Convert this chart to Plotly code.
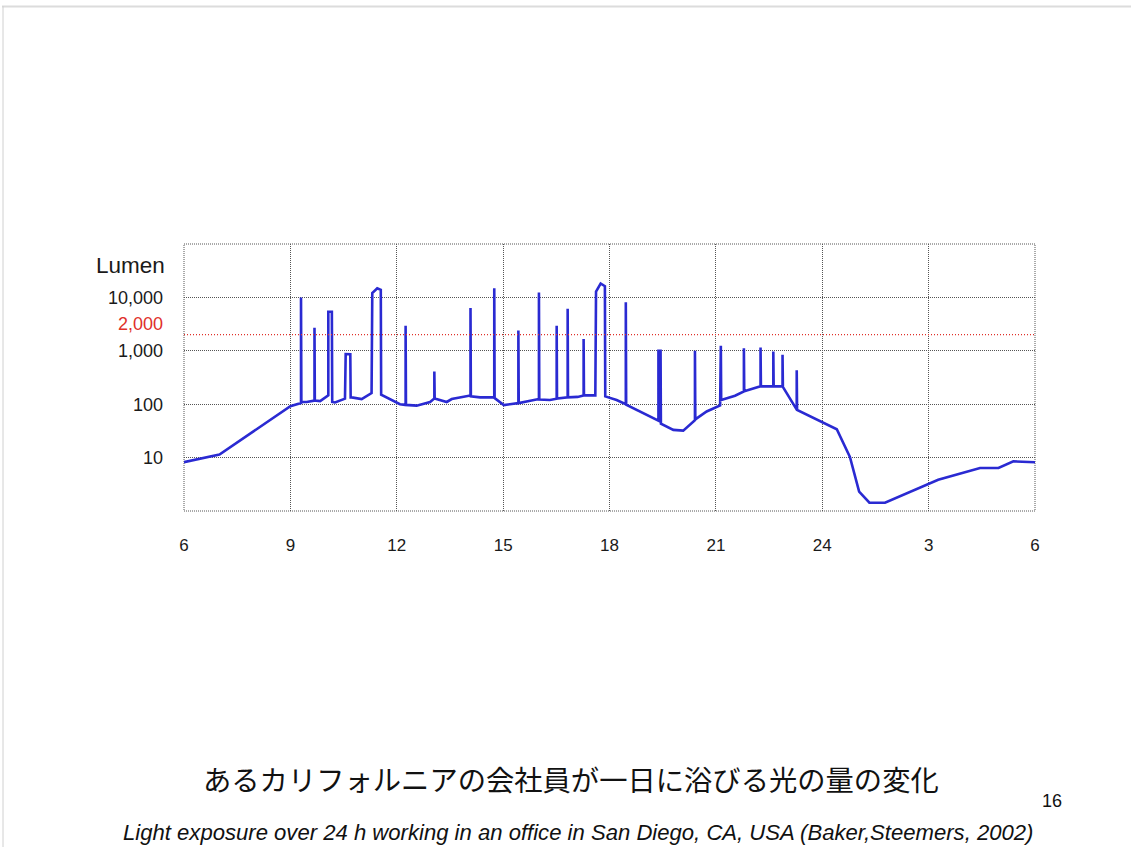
import plotly.graph_objects as go

# Hour of day (values past 24 continue into the next morning) and light level
hours = [
    6.00, 7.00, 9.00, 9.30, 9.30, 9.31, 9.46, 9.68, 9.68, 9.69, 9.84,
    10.07, 10.07, 10.17, 10.18, 10.26, 10.54, 10.56, 10.69, 10.70, 10.73,
    11.01, 11.29, 11.31, 11.45, 11.55, 11.56, 12.09, 12.25, 12.25, 12.26,
    12.56, 12.94, 13.06, 13.06, 13.07, 13.41, 13.55, 14.08, 14.08, 14.09,
    14.35, 14.75, 14.75, 14.76, 15.02, 15.43, 15.43, 15.44, 15.80, 16.01,
    16.01, 16.02, 16.32, 16.51, 16.51, 16.52, 16.82, 16.82, 16.83, 17.10,
    17.27, 17.27, 17.28, 17.60, 17.62, 17.75, 17.87, 17.88, 18.20, 18.46,
    18.46, 18.47, 19.38, 19.38, 19.44, 19.45, 19.80, 20.08, 20.41, 20.41,
    20.42, 20.74, 21.12, 21.14, 21.15, 21.54, 21.79, 21.79, 21.80, 22.26,
    22.26, 22.27, 22.62, 22.62, 22.63, 22.88, 22.88, 22.89, 23.28, 23.28,
    23.29, 24.41, 24.78, 25.04, 25.33, 25.77, 27.27, 28.45, 28.97, 29.39,
    30.00,
]
lumen = [
    8.2, 11.4, 92, 105, 10000, 110, 110, 117, 2700, 117, 114,
    146, 5400, 5400, 110, 108, 127, 870, 860, 134, 134,
    125, 162, 12000, 14800, 13800, 151, 100, 97, 2950, 97,
    94, 110, 128, 410, 128, 110, 125, 146, 6300, 140,
    134, 134, 14800, 130, 96, 105, 2400, 105, 117, 125,
    12300, 122, 120, 127, 2950, 127, 134, 6100, 134, 137,
    146, 1660, 146, 146, 12900, 18200, 16200, 140, 120, 100,
    8100, 98, 49, 1000, 1000, 43, 33, 32, 50, 1000,
    52, 73, 95, 1240, 120, 144, 174, 1120, 174, 216,
    1150, 216, 216, 970, 216, 216, 840, 210, 79, 430,
    78, 34, 10.3, 2.3, 1.43, 1.43, 3.85, 6.4, 6.4, 8.5,
    8.2,
]

x_ticks = [6, 9, 12, 15, 18, 21, 24, 27, 30]
x_tick_labels = ["6", "9", "12", "15", "18", "21", "24", "3", "6"]
y_ticks = [10, 100, 1000, 10000]
y_tick_labels = ["10", "100", "1,000", "10,000"]
threshold = 2000
threshold_label = "2,000"

title_jp = "あるカリフォルニアの会社員が一日に浴びる光の量の変化"
subtitle = ("Light exposure over 24 h working in an office in San Diego, CA, USA "
            "(Baker,Steemers, 2002)")
page_no = "16"

W, H = 1131, 847
L, R, T, B = 184, 96, 244, 336
plot_w, plot_h = W - L - R, H - T - B

GRID_COLOR = "#555555"
GRID_DASH = "1px,1px"
RED = "#e0302a"
TEXT = "#1a1a1a"


def px_x(p):
    return (p - L) / plot_w


def px_y(p):
    return (H - B - p) / plot_h


fig = go.Figure()

fig.add_trace(go.Scatter(
    x=[x_ticks[0], x_ticks[-1]], y=[threshold, threshold],
    mode="lines", line=dict(color=RED, width=1.2, dash="1px,2px"),
    yaxis="y2", hoverinfo="skip", showlegend=False,
))

fig.add_trace(go.Scatter(
    x=hours, y=lumen, mode="lines",
    line=dict(color="#2a2ad2", width=2.6),
    showlegend=False,
))

grid = dict(showgrid=True, gridcolor=GRID_COLOR, gridwidth=1, griddash=GRID_DASH,
            zeroline=False, showline=False, ticks="")

fig.update_layout(
    width=W, height=H,
    margin=dict(l=L, r=R, t=T, b=B, pad=0),
    paper_bgcolor="white", plot_bgcolor="white",
    font=dict(family="Liberation Sans, Arial, sans-serif", color=TEXT),
    xaxis=dict(
        range=[x_ticks[0], x_ticks[-1]], tickmode="array",
        tickvals=x_ticks, ticktext=x_tick_labels,
        tickfont=dict(size=17, color=TEXT), ticklabelstandoff=22,
        **grid,
    ),
    yaxis=dict(
        type="log", range=[0, 5], tickmode="array",
        tickvals=y_ticks, ticktext=y_tick_labels,
        tickfont=dict(size=18, color=TEXT), ticklabelstandoff=20,
        **grid,
    ),
    yaxis2=dict(
        type="log", range=[0, 5], overlaying="y", side="left",
        tickmode="array", tickvals=[threshold], ticktext=[threshold_label],
        tickfont=dict(size=18, color=RED), ticklabelstandoff=20,
        ticklabelshift=-11,
        showgrid=False, zeroline=False, showline=False, ticks="",
    ),
    shapes=[
        # dotted plot border
        dict(type="rect", xref="paper", yref="paper", x0=0, x1=1, y0=0, y1=1,
             line=dict(color=GRID_COLOR, width=1, dash=GRID_DASH), layer="below"),
        # slide frame edges
        dict(type="line", xref="paper", yref="paper",
             x0=px_x(2), x1=px_x(W), y0=px_y(6.5), y1=px_y(6.5),
             line=dict(color="#dcdcdc", width=2)),
        dict(type="line", xref="paper", yref="paper",
             x0=px_x(3), x1=px_x(3), y0=px_y(6), y1=px_y(H),
             line=dict(color="#d0d0d0", width=1)),
    ],
    annotations=[
        dict(text="Lumen", xref="paper", yref="paper",
             x=px_x(167), y=px_y(265), xanchor="right", yanchor="middle",
             showarrow=False, font=dict(size=22.5, color=TEXT)),
        dict(text=title_jp, xref="paper", yref="paper",
             x=px_x(571), y=px_y(778), xanchor="center", yanchor="middle",
             showarrow=False,
             font=dict(family="Noto Sans CJK JP", size=28.3, color="#111111")),
        dict(text=f"<i>{subtitle}</i>", xref="paper", yref="paper",
             x=px_x(578), y=px_y(832), xanchor="center", yanchor="middle",
             showarrow=False, font=dict(size=22.1, color="#111111")),
        dict(text=page_no, xref="paper", yref="paper",
             x=px_x(1052), y=px_y(801), xanchor="center", yanchor="middle",
             showarrow=False, font=dict(size=18, color="#111111")),
    ],
)

fig.write_html("out.html")
